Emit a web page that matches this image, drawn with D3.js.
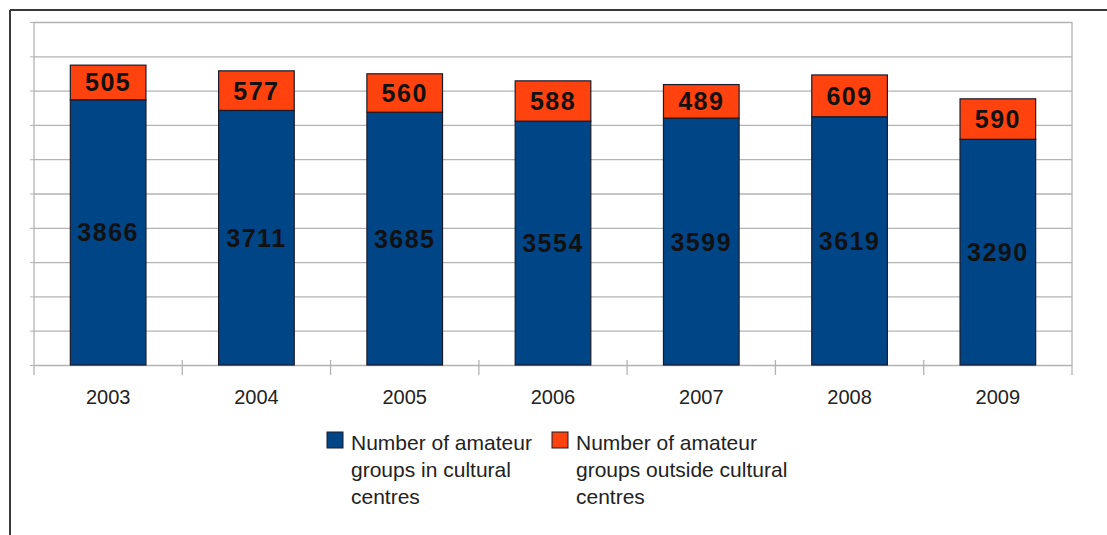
<!DOCTYPE html>
<html>
<head>
<meta charset="utf-8">
<script src="https://cdn.jsdelivr.net/npm/d3@7"></script>
<style>
  html, body { margin: 0; padding: 0; background: #fff; }
  svg { display: block; font-family: "Liberation Sans", Arial, sans-serif; }
</style>
</head>
<body>
<div id="chart"></div>
<script>
'use strict';

// chart data
var years = ["2003", "2004", "2005", "2006", "2007", "2008", "2009"];
var insideCentres = [3866, 3711, 3685, 3554, 3599, 3619, 3290];
var outsideCentres = [505, 577, 560, 588, 489, 609, 590];
var yTicks = [0, 500, 1000, 1500, 2000, 2500, 3000, 3500, 4000, 4500, 5000];
var seriesNames = [
    ["Number of amateur", "groups in cultural", "centres"],
    ["Number of amateur", "groups outside cultural", "centres"]
];
var seriesColors = ["#004586", "#ff420e"];

var W = 1107, H = 535;
var plot = { left: 34, top: 22, right: 1072, bottom: 365 };

var svg = d3.select("#chart").append("svg")
    .attr("width", W)
    .attr("height", H);

// outer frame
svg.append("line")
    .attr("x1", 10).attr("y1", 10).attr("x2", W).attr("y2", 10)
    .attr("stroke", "#3a3a3a").attr("stroke-width", 2);
svg.append("line")
    .attr("x1", 10).attr("y1", 10).attr("x2", 10).attr("y2", H)
    .attr("stroke", "#3a3a3a").attr("stroke-width", 2);

var x = d3.scaleBand()
    .domain(years)
    .range([plot.left, plot.right])
    .paddingInner(0.49)
    .paddingOuter(0.245);

var y = d3.scaleLinear()
    .domain([0, 5000])
    .range([plot.bottom, plot.top]);

// grid lines
var grid = svg.append("g")
    .attr("transform", "translate(" + plot.left + ",0)")
    .call(d3.axisLeft(y).tickValues(yTicks).tickSize(-(plot.right - plot.left)).tickFormat(""));
grid.select(".domain").remove();
grid.selectAll(".tick line").attr("stroke", "#b3b3b3").attr("stroke-width", 1.3);

// small ticks on the left
grid.selectAll(".tick").append("line")
    .attr("x1", -4).attr("x2", 0)
    .attr("stroke", "#b3b3b3");

// plot area sides
svg.append("line")
    .attr("x1", plot.left).attr("x2", plot.left)
    .attr("y1", plot.top).attr("y2", plot.bottom + 10)
    .attr("stroke", "#b3b3b3").attr("stroke-width", 1.3);
svg.append("line")
    .attr("x1", plot.right).attr("x2", plot.right)
    .attr("y1", plot.top).attr("y2", plot.bottom + 10)
    .attr("stroke", "#b3b3b3").attr("stroke-width", 1.3);

// category ticks between bars
var step = x.step();
var sep = svg.append("g");
years.slice(1).forEach(function(yr) {
    var px = x(yr) - (step - x.bandwidth()) / 2;
    sep.append("line")
        .attr("x1", px).attr("x2", px)
        .attr("y1", plot.bottom - 5).attr("y2", plot.bottom + 10)
        .attr("stroke", "#b3b3b3").attr("stroke-width", 1.3);
});

// x axis labels
var xAxis = svg.append("g")
    .attr("transform", "translate(0," + plot.bottom + ")")
    .call(d3.axisBottom(x).tickSize(0).tickPadding(25));
xAxis.select(".domain").remove();
xAxis.selectAll("text")
    .attr("font-size", 20)
    .attr("font-family", "Liberation Sans, Arial, sans-serif")
    .attr("fill", "#222");

// stacked data
var rows = years.map(function(yr, i) {
    return { year: yr, inside: insideCentres[i], outside: outsideCentres[i] };
});
var stack = d3.stack().keys(["inside", "outside"])(rows);

var layers = svg.selectAll(".layer")
    .data(stack)
    .enter().append("g")
    .attr("class", "layer")
    .attr("fill", function(d, i) { return seriesColors[i]; });

layers.selectAll("rect")
    .data(function(d) { return d; })
    .enter().append("rect")
    .attr("x", function(d) { return x(d.data.year); })
    .attr("width", x.bandwidth())
    .attr("y", function(d) { return y(d[1]); })
    .attr("height", function(d) { return y(d[0]) - y(d[1]); })
    .attr("stroke", "#1a1a2a")
    .attr("stroke-width", 1.2);

// value labels
layers.selectAll("text")
    .data(function(d) { return d; })
    .enter().append("text")
    .attr("x", function(d) { return x(d.data.year) + x.bandwidth() / 2; })
    .attr("y", function(d) { return (y(d[0]) + y(d[1])) / 2; })
    .attr("dy", "0.36em")
    .attr("text-anchor", "middle")
    .attr("font-size", 25)
    .attr("font-weight", "bold")
    .attr("letter-spacing", 1.5)
    .attr("fill", "#111")
    .text(function(d) { return d[1] - d[0]; });

// legend
var legendX = [327, 552];
var legend = svg.selectAll(".legend")
    .data(seriesNames)
    .enter().append("g")
    .attr("class", "legend")
    .attr("transform", function(d, i) { return "translate(" + legendX[i] + ",432)"; });

legend.append("rect")
    .attr("width", 16).attr("height", 16)
    .attr("fill", function(d, i) { return seriesColors[i]; })
    .attr("stroke", "#1a1a2a")
    .attr("stroke-width", 1);

legend.selectAll("text")
    .data(function(d) { return d; })
    .enter().append("text")
    .attr("x", 24)
    .attr("y", function(d, i) { return 18 + i * 27; })
    .attr("font-size", 21)
    .attr("fill", "#222")
    .text(function(d) { return d; });
</script>
</body>
</html>
